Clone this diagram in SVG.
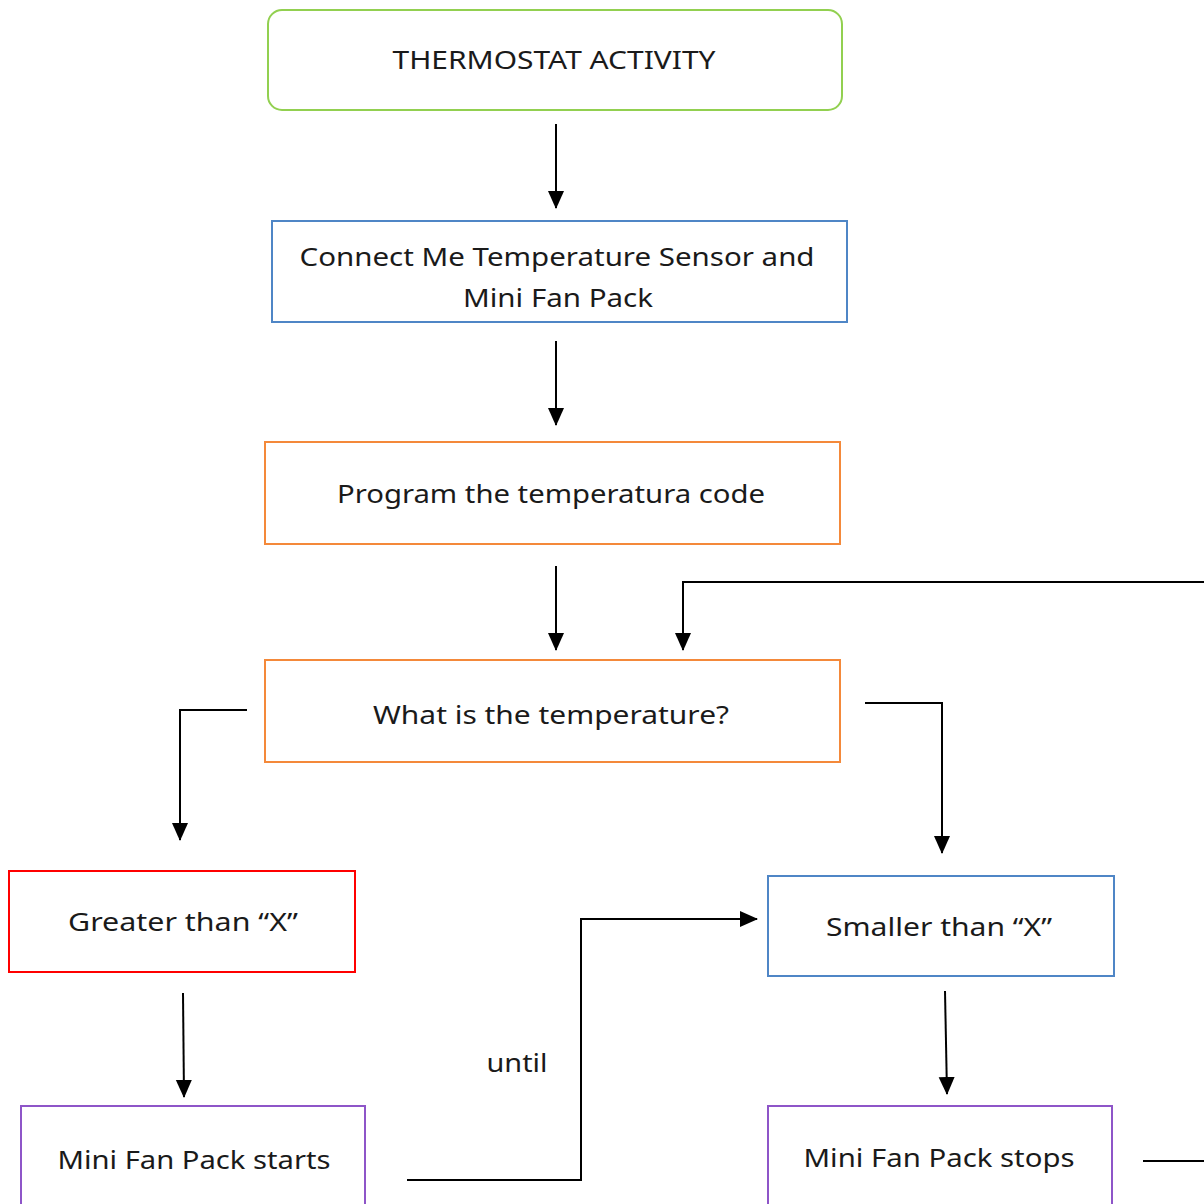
<svg xmlns="http://www.w3.org/2000/svg" width="1204" height="1204" viewBox="0 0 1204 1204">
<style>
.bg{fill:#ffffff}
.box{fill:#ffffff;stroke-width:2}
.green{stroke:#92D050}
.blue{stroke:#4F86C6}
.orange{stroke:#F4893A}
.red{stroke:#FF0000}
.purple{stroke:#8E55C8}
.t{font-family:"Noto Sans","Open Sans","Liberation Sans",sans-serif;font-size:26px;fill:#1a1a1a;text-anchor:middle}
.c{fill:none;stroke:#000000;stroke-width:2}
.ca{fill:none;stroke:#000000;stroke-width:2;marker-end:url(#ah)}
</style>
<defs>
<marker id="ah" markerUnits="userSpaceOnUse" markerWidth="18" markerHeight="18" viewBox="0 0 18 18" refX="17" refY="9" orient="auto">
<path d="M0,1 L18,9 L0,17 Z" fill="#000000"/>
</marker>
</defs>
<rect class="bg" x="0" y="0" width="1204" height="1204"/>
<g id="connectors">
<line class="ca" x1="556" y1="124" x2="556" y2="208"/>
<line class="ca" x1="556" y1="341" x2="556" y2="425"/>
<line class="ca" x1="556" y1="566" x2="556" y2="650"/>
<polyline class="ca" points="1204,582 683,582 683,650"/>
<polyline class="ca" points="247,710 180,710 180,840"/>
<polyline class="ca" points="865,703 942,703 942,853"/>
<line class="ca" x1="183" y1="993" x2="184" y2="1097"/>
<line class="ca" x1="945" y1="991" x2="947" y2="1094"/>
<polyline class="ca" points="407,1180 581,1180 581,919 757,919"/>
<line class="c" x1="1143" y1="1161" x2="1204" y2="1161"/>
<text class="t" x="517" y="1072" textLength="61" lengthAdjust="spacingAndGlyphs">until</text>
</g>
<g id="thermostat">
<rect class="box green" x="268" y="10" width="574" height="100" rx="14"/>
<text class="t" x="554" y="69" textLength="323" lengthAdjust="spacingAndGlyphs">THERMOSTAT ACTIVITY</text>
</g>
<g id="connect">
<rect class="box blue" x="272" y="221" width="575" height="101"/>
<text class="t" x="557" y="266" textLength="515" lengthAdjust="spacingAndGlyphs">Connect Me Temperature Sensor and</text>
<text class="t" x="558" y="307" textLength="190" lengthAdjust="spacingAndGlyphs">Mini Fan Pack</text>
</g>
<g id="program">
<rect class="box orange" x="265" y="442" width="575" height="102"/>
<text class="t" x="551" y="503" textLength="428" lengthAdjust="spacingAndGlyphs">Program the temperatura code</text>
</g>
<g id="what">
<rect class="box orange" x="265" y="660" width="575" height="102"/>
<text class="t" x="551" y="724" textLength="356" lengthAdjust="spacingAndGlyphs">What is the temperature?</text>
</g>
<g id="greater">
<rect class="box red" x="9" y="871" width="346" height="101"/>
<text class="t" x="183" y="931" textLength="230" lengthAdjust="spacingAndGlyphs">Greater than “X”</text>
</g>
<g id="smaller">
<rect class="box blue" x="768" y="876" width="346" height="100"/>
<text class="t" x="939" y="936" textLength="226" lengthAdjust="spacingAndGlyphs">Smaller than “X”</text>
</g>
<g id="starts">
<rect class="box purple" x="21" y="1106" width="344" height="120"/>
<text class="t" x="194" y="1169" textLength="273" lengthAdjust="spacingAndGlyphs">Mini Fan Pack starts</text>
</g>
<g id="stops">
<rect class="box purple" x="768" y="1106" width="344" height="120"/>
<text class="t" x="939" y="1167" textLength="271" lengthAdjust="spacingAndGlyphs">Mini Fan Pack stops</text>
</g>
</svg>
